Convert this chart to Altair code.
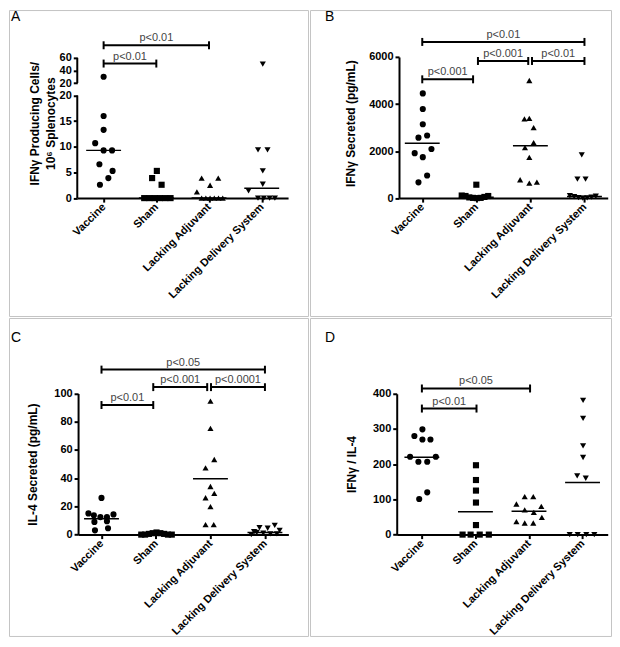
import json
import altair as alt
import pandas as pd

FONT = "Liberation Sans"

categories = ["Vaccine", "Sham", "Lacking Adjuvant", "Lacking Delivery System"]
marker_shapes = ["circle", "square", "triangle-up", "triangle-down"]

# ---------------- Panel A : IFN-gamma producing cells / 10^6 splenocytes
a_vaccine = [30, 16, 13.3, 10.7, 9.3, 9.3, 6.6, 5.3, 3.9, 2.6]
a_sham = [5.3, 3.9, 2.6, 0, 0, 0, 0, 0, 0]
a_adjuvant = [3.9, 3.9, 2.5, 1.2, 0, 0, 0, 0, 0, 0]
a_delivery = [50, 9.4, 9.4, 5.3, 2.7, 1.4, 0, 0, 0, 0]
a_center = [9.3, 0, 0, 1.9]
# horizontal scatter of the dots, as a fraction of the category spacing
a_vaccine_spread = [0, 0, 0, -0.16, 0, 0.16, -0.08, 0.17, 0.09, -0.07]
a_sham_spread = [0.01, -0.08, 0.1, -0.23, -0.13, -0.03, 0.07, 0.17, 0.27]
a_adjuvant_spread = [-0.14, 0.175, 0.02, -0.23, -0.14, -0.06, 0.02, 0.1, 0.18, 0.26]
a_delivery_spread = [0.02, -0.07, 0.11, 0.02, 0.02, -0.25, -0.07, 0.04, 0.15, 0.25]
a_br_from = [0, 0]
a_br_to = [1, 2]
a_br_level = [51, 80]
a_br_text = ["p<0.01", "p<0.01"]

# ---------------- Panel B : IFN-gamma secreted (pg/mL)
b_vaccine = [4450, 3790, 3140, 2570, 2660, 1910, 2090, 1740, 960, 670]
b_sham = [570, 110, 90, 30, 10, 0, 10, 50, 90]
b_adjuvant = [5000, 3370, 3390, 3000, 2360, 2150, 1730, 780, 640, 680]
b_delivery = [1840, 810, 810, 100, 60, 20, 0, 10, 40, 80]
b_center = [2330, 40, 2230, 65]
b_vaccine_spread = [0.01, 0.01, 0.01, -0.07, 0.09, -0.14, 0.17, 0.01, 0.09, -0.07]
b_sham_spread = [0, -0.27, -0.2, -0.13, -0.06, 0.01, 0.08, 0.15, 0.22]
b_adjuvant_spread = [-0.02, -0.11, -0.02, 0.06, 0.06, -0.1, -0.02, -0.19, -0.02, 0.12]
b_delivery_spread = [-0.05, -0.13, 0.02, -0.27, -0.19, -0.11, -0.03, 0.05, 0.13, 0.21]
b_br_from = [0, 1.03, 2.03, 0]
b_br_to = [0.94, 1.96, 3, 3]
b_br_level = [5050, 5830, 5830, 6640]
b_br_text = ["p<0.001", "p<0.001", "p<0.01", "p<0.01"]

# ---------------- Panel C : IL-4 secreted (pg/mL)
c_vaccine = [26, 15, 13.7, 12.4, 12.4, 14.3, 9, 9.5, 3, 4.5]
c_sham = [0, 0, 0.5, 1, 1.5, 1, 0.5, 0, 0]
c_adjuvant = [94.6, 75.3, 53.2, 47.3, 34.1, 29.2, 26.1, 19.8, 7.1, 7.1]
c_delivery = [6.5, 5, 4.5, 3, 2, 1, 0.5, 0, 0.5, 1.5]
c_center = [11.3, 0.5, 39.5, 1.5]
c_vaccine_spread = [0, -0.24, -0.14, -0.02, 0.1, 0.22, -0.13, 0.1, -0.12, 0.12]
c_sham_spread = [-0.27, -0.2, -0.13, -0.06, 0.01, 0.08, 0.15, 0.22, 0.29]
c_adjuvant_spread = [0, 0, 0.07, -0.09, 0, 0.07, -0.09, 0, -0.09, 0.06]
c_delivery_spread = [0.18, -0.1, 0.05, 0.27, -0.2, -0.03, 0.1, -0.25, 0.22, -0.15]
c_br_from = [0, 0.95, 2.01, 0]
c_br_to = [0.95, 1.94, 3, 3]
c_br_level = [91.8, 104.5, 104.5, 116.9]
c_br_text = ["p<0.01", "p<0.001", "p<0.0001", "p<0.05"]

# ---------------- Panel D : IFN-gamma / IL-4
d_vaccine = [299, 280, 270, 270, 221, 221, 207, 207, 101, 120]
d_sham = [197, 155, 125, 91, 27, 0, 0, 0, 0]
d_adjuvant = [108, 108, 87, 80, 70, 63, 49, 37, 33, 33]
d_delivery = [381, 330, 252, 219, 167, 160, 0, 0, 0, 0]
d_center = [220, 65, 66, 148]
d_vaccine_spread = [0.01, -0.14, 0.01, 0.16, -0.22, 0.26, -0.065, 0.1, -0.05, 0.1]
d_sham_spread = [0.01, 0.01, 0.01, 0.01, 0.01, -0.24, -0.09, 0.08, 0.25]
d_adjuvant_spread = [-0.08, 0.08, -0.235, 0.23, -0.08, 0.09, 0.24, -0.235, -0.08, 0.08]
d_delivery_spread = [0.01, 0.01, 0.01, 0.01, -0.1, 0.06, -0.24, -0.09, 0.07, 0.22]
d_br_from = [0, 0]
d_br_to = [1.02, 2.02]
d_br_level = [358, 415]
d_br_text = ["p<0.01", "p<0.05"]

LABEL_EXPR = json.dumps(categories) + "[round(datum.value)]"


def panel(letter, groups, spreads, centers, br_from, br_to, br_level, br_text,
          title_lines, W, H, x_range, x_pad, y_domain, y_range, y_ticks,
          title_x, title_y, letter_x, letter_y, broken=False):
    pts = pd.DataFrame([
        {"pos": i + s, "value": v, "group": categories[i]}
        for i, (vals, sps) in enumerate(zip(groups, spreads))
        for v, s in zip(vals, sps)
    ])
    ctr = pd.DataFrame({"pos": list(range(4)), "value": centers})
    br = pd.DataFrame({"pos": br_from, "pos2": br_to, "value": br_level, "label": br_text})
    caps = pd.DataFrame({"pos": br_from + br_to, "value": br_level + br_level})
    txt = pd.DataFrame({"pos": [(a + b) / 2 for a, b in zip(br_from, br_to)],
                        "value": br_level, "label": br_text})
    one = pd.DataFrame({"k": [0]})

    xs = alt.Scale(domain=[-x_pad, 3 + x_pad], range=x_range, nice=False, zero=False)
    ys = alt.Scale(domain=y_domain, range=y_range, nice=False, zero=False)
    xa = alt.Axis(values=[0, 1, 2, 3], labelExpr=LABEL_EXPR, labelAngle=-45,
                  labelAlign="right", labelBaseline="middle",
                  offset=-(H - y_range[0]), title=None, grid=False,
                  domainColor="black", domainWidth=2, tickColor="black",
                  tickWidth=2, tickSize=4, labelPadding=3, labelFont=FONT,
                  labelFontWeight="bold", labelFontSize=11, labelColor="black",
                  labelFlush=False, labelOverlap=False)
    ya = alt.Axis(values=y_ticks, format="d", offset=-x_range[0], title=None,
                  grid=False, domain=not broken, domainColor="black",
                  domainWidth=2, tickColor="black", tickWidth=2, tickSize=4,
                  labelPadding=2, labelFont=FONT, labelFontWeight="bold",
                  labelFontSize=11, labelColor="black", labelFlush=False,
                  labelOverlap=False)
    X = alt.X("pos:Q", scale=xs, axis=xa)
    Y = alt.Y("value:Q", scale=ys, axis=ya)

    layers = []
    if broken:
        seg = pd.DataFrame({"value": [y_domain[0], y_domain[2]],
                            "value2": [y_domain[1], y_domain[3]]})
        layers.append(alt.Chart(seg).mark_rule(color="black", strokeWidth=2).encode(
            x=alt.value(x_range[0]), y=Y, y2="value2:Q"))
    layers.append(alt.Chart(pts).mark_point(filled=True, opacity=1, color="black",
                                            size=38, strokeWidth=0).encode(
        x=X, y=Y,
        shape=alt.Shape("group:N", scale=alt.Scale(domain=categories, range=marker_shapes),
                        legend=None)))
    layers.append(alt.Chart(ctr).mark_tick(orient="horizontal", color="black", opacity=1,
                                           size=35, thickness=1.5).encode(x=X, y=Y))
    layers.append(alt.Chart(br).mark_rule(color="black", strokeWidth=2).encode(
        x=X, x2="pos2:Q", y=Y))
    layers.append(alt.Chart(caps).mark_tick(orient="vertical", color="black", opacity=1,
                                            size=8, thickness=2).encode(x=X, y=Y))
    layers.append(alt.Chart(txt).mark_text(font=FONT, fontSize=11, color="#444444",
                                           baseline="alphabetic", dy=-4).encode(
        x=X, y=Y, text="label:N"))
    layers.append(alt.Chart(one).mark_text(font=FONT, fontSize=12, fontWeight="bold",
                                           color="black", angle=270, align="center",
                                           baseline="alphabetic", lineHeight=16).encode(
        x=alt.value(title_x), y=alt.value(title_y), text=alt.value(title_lines)))
    layers.append(alt.Chart(one).mark_text(font=FONT, fontSize=14, color="black",
                                           align="left", baseline="alphabetic").encode(
        x=alt.value(letter_x), y=alt.value(letter_y), text=alt.value(letter)))
    return alt.layer(*layers).properties(width=W, height=H)


pA = panel("A", [a_vaccine, a_sham, a_adjuvant, a_delivery],
           [a_vaccine_spread, a_sham_spread, a_adjuvant_spread, a_delivery_spread],
           a_center, a_br_from, a_br_to, a_br_level, a_br_text,
           ["IFNγ Producing Cells/", "10⁶ Splenocytes"],
           300, 307, [68.5, 280], 0.5, [0, 20, 20.0001, 60], [188.7, 85.7, 73.3, 48],
           [0, 5, 10, 15, 20, 20.0001, 40, 60], 30.6, 114, 2, 11, broken=True)
pB = panel("B", [b_vaccine, b_sham, b_adjuvant, b_delivery],
           [b_vaccine_spread, b_sham_spread, b_adjuvant_spread, b_delivery_spread],
           b_center, b_br_from, b_br_to, b_br_level, b_br_text,
           ["IFNγ Secreted (pg/mL)"],
           302, 307, [89.3, 298.7], 0.43, [0, 6000], [188.7, 47.1],
           [0, 2000, 4000, 6000], 45.6, 114, 15, 11)
pC = panel("C", [c_vaccine, c_sham, c_adjuvant, c_delivery],
           [c_vaccine_spread, c_sham_spread, c_adjuvant_spread, c_delivery_spread],
           c_center, c_br_from, c_br_to, c_br_level, c_br_text,
           ["IL-4 Secreted (pg/mL)"],
           300, 319, [69.3, 280.3], 0.43, [0, 100], [217.3, 75.7],
           [0, 20, 40, 60, 80, 100], 28.5, 147, 2, 24)
pD = panel("D", [d_vaccine, d_sham, d_adjuvant, d_delivery],
           [d_vaccine_spread, d_sham_spread, d_adjuvant_spread, d_delivery_spread],
           d_center, d_br_from, d_br_to, d_br_level, d_br_text,
           ["IFNγ / IL-4"],
           302, 319, [87, 298.7], 0.47, [0, 400], [217.3, 76],
           [0, 100, 200, 300, 400], 46, 147, 15, 24)

chart = alt.vconcat(
    alt.hconcat(pA, pB, spacing=0),
    alt.hconcat(pC, pD, spacing=0),
    spacing=0,
    padding=0,
    background="white",
).configure_view(stroke="#c4c4c4", strokeWidth=1)

chart.save("out.html", embed_options={"renderer": "svg", "actions": False})
